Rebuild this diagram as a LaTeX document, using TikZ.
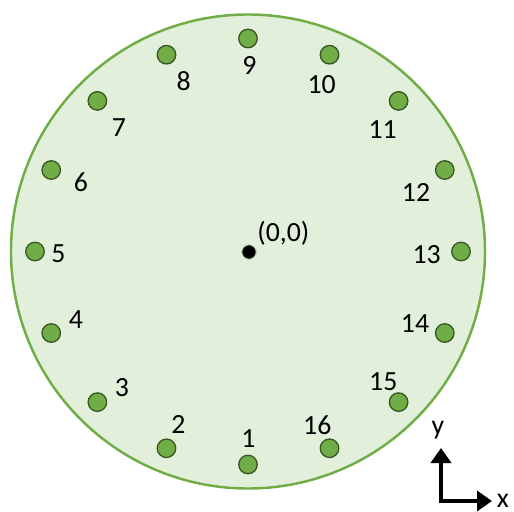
\documentclass[tikz,border=0pt]{standalone}
\usepackage{fontspec}
\setmainfont{Carlito}
\usepackage{xcolor}
\usepackage{tikz}
\usetikzlibrary{arrows.meta}
\definecolor{platefill}{HTML}{E2EFDA}
\definecolor{plateline}{HTML}{70AD47}
\definecolor{holeline}{HTML}{385723}

\begin{document}
\begin{tikzpicture}[x=0.02cm, y=0.02cm, >={Triangle[length=0.3cm, width=0.4cm]},
		hole/.style={circle, fill=plateline, draw=holeline, line width=0.75pt, minimum size=0.37cm, inner sep=0pt},
		num/.style={inner sep=0pt, font=\fontsize{15.8}{18}\selectfont}]
		% 1. 画布范围
		\useasboundingbox (-248,-259.5) rectangle (266,251.5);
		
		\def\R{237}
		\def\r{213}
		
		% 2. 圆盘
		\coordinate (O) at (0,0);
		\draw[plateline, fill=platefill, line width=1.4pt] (O) circle (\R);
		
		% 3. 中心点 (0,0)
		\node[circle, fill=black, draw=plateline!50, line width=0.6pt, minimum size=0.29cm, inner sep=0pt] (C) at (1,-0.5) {};
		\node[num] (T) at (35.3,18.2) {(0,0)};
		
		% 4. 小孔 1--16
		\node[hole] (H1) at (270:\r) {};
		\node[hole] (H2) at (247.5:\r) {};
		\node[hole] (H3) at (225:\r) {};
		\node[hole] (H4) at (202.5:\r) {};
		\node[hole] (H5) at (180:\r) {};
		\node[hole] (H6) at (157.5:\r) {};
		\node[hole] (H7) at (135:\r) {};
		\node[hole] (H8) at (112.5:\r) {};
		\node[hole] (H9) at (90:\r) {};
		\node[hole] (H10) at (67.5:\r) {};
		\node[hole] (H11) at (45:\r) {};
		\node[hole] (H12) at (22.5:\r) {};
		\node[hole] (H13) at (0:\r) {};
		\node[hole] (H14) at (-22.5:\r) {};
		\node[hole] (H15) at (-45:\r) {};
		\node[hole] (H16) at (-67.5:\r) {};
		
		% 5. 编号
		\node[num] (L1) at (0.3,-186.8) {1};
		\node[num] (L2) at (-69.7,-172.5) {2};
		\node[num] (L3) at (-126,-136.2) {3};
		\node[num] (L4) at (-172,-68.5) {4};
		\node[num] (L5) at (-189.7,-2.5) {5};
		\node[num] (L6) at (-167,68.8) {6};
		\node[num] (L7) at (-129,123.8) {7};
		\node[num] (L8) at (-64.3,170.5) {8};
		\node[num] (L9) at (1.3,186.5) {9};
		\node[num] (L10) at (73.7,166.5) {10};
		\node[num] (L11) at (134.7,122.2) {11};
		\node[num] (L12) at (168,58.8) {12};
		\node[num] (L13) at (178.7,-3.5) {13};
		\node[num] (L14) at (167,-72.5) {14};
		\node[num] (L15) at (135.3,-130.2) {15};
		\node[num] (L16) at (69.3,-173.5) {16};
		
		% 6. 坐标轴
		\coordinate (A) at (193,-249.5);
		\coordinate (Y) at (193,-196.5);
		\coordinate (X) at (244,-249.5);
		\draw[<->, line width=2.8pt] (Y) -- (A) -- (X);
		\node[num] (LY) at (190,-178.5) {y};
		\node[num] (LX) at (255,-249.5) {x};
		
	\end{tikzpicture}
\end{document}
